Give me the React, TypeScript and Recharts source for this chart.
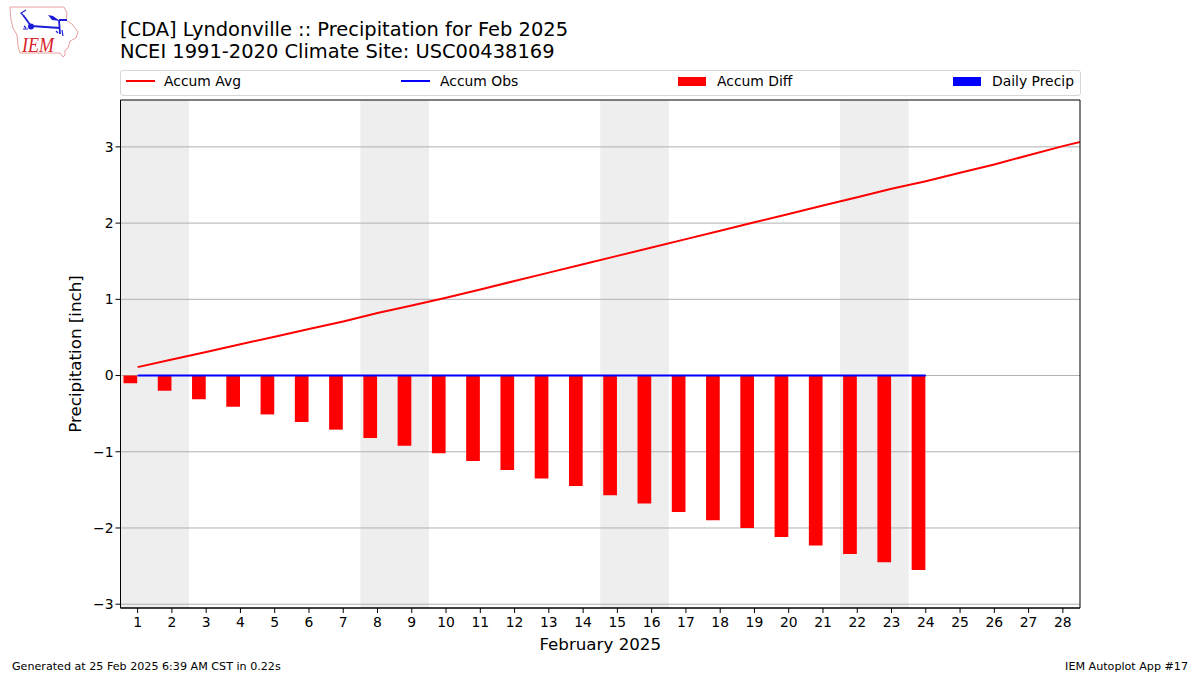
import {
  Bar,
  CartesianGrid,
  ComposedChart,
  Line,
  ReferenceArea,
  XAxis,
  YAxis,
} from "recharts";

const FONT = "'DejaVu Sans', sans-serif";

const days = [1, 2, 3, 4, 5, 6, 7, 8, 9, 10, 11, 12, 13, 14, 15, 16, 17, 18, 19, 20, 21, 22, 23, 24, 25, 26, 27, 28, 29];
const accumAvg = [0.11, 0.21, 0.31, 0.41, 0.51, 0.61, 0.71, 0.82, 0.92, 1.02, 1.13, 1.24, 1.35, 1.46, 1.57, 1.68, 1.79, 1.9, 2.01, 2.12, 2.23, 2.34, 2.45, 2.55, 2.66, 2.77, 2.89, 3.01, 3.12];
const accumObs = [0, 0, 0, 0, 0, 0, 0, 0, 0, 0, 0, 0, 0, 0, 0, 0, 0, 0, 0, 0, 0, 0, 0, 0];
const accumDiff = [-0.1, -0.2, -0.31, -0.41, -0.51, -0.61, -0.71, -0.82, -0.92, -1.02, -1.12, -1.24, -1.35, -1.45, -1.57, -1.68, -1.79, -1.9, -2.0, -2.12, -2.23, -2.34, -2.45, -2.55];
const dailyPrecip = [0, 0, 0, 0, 0, 0, 0, 0, 0, 0, 0, 0, 0, 0, 0, 0, 0, 0, 0, 0, 0, 0, 0, 0];
const weekends = [
  [0.5, 2.5],
  [7.5, 9.5],
  [14.5, 16.5],
  [21.5, 23.5],
];
const xTicks = days.slice(0, 28);
const yTicks = [-3, -2, -1, 0, 1, 2, 3];
const xDomain = [0.5, 28.5];
const yDomain = [-3.05, 3.615];

const rows = days.map((day, i) => ({
  day,
  avg: accumAvg[i],
  obs: accumObs[i],
  diff: accumDiff[i],
  daily: dailyPrecip[i],
}));

function Logo() {
  return (
    <svg width={90} height={62} style={{ position: "absolute", left: 0, top: 0 }}>
      <path
        d="M10 7 L64 7 L67 13 L66 20 L72 24 L78 32 L76 38 L70 41 L68 48 L65 50 L65 55 L63 57 L60 53 L20 53 L18 46 L17 35 L13 28 L11 20 Z"
        fill="#fff"
        stroke="#e8a0a0"
        strokeWidth={1}
      />
      <path d="M31 26 L60 28 M59 20 L67 20 M59 20 L60 34 M23 15 L31 26" stroke="#1c1cd8" strokeWidth={1.8} fill="none" />
      <path d="M23 15 L21 13 L26 10" stroke="#1c1cd8" strokeWidth={1.2} fill="none" />
      <circle cx={31} cy={26.5} r={3} fill="#1c1cd8" />
      <path d="M48 15 L53 16 L60 21 L52 20 Z" fill="#1c1cd8" />
      <path d="M24 26 L26 28 M23 29 L28 29 M56 31 L58 33 M62 30 L63 36" stroke="#1c1cd8" strokeWidth={1.2} />
      <text
        x={22}
        y={52}
        fontFamily="'Liberation Serif', serif"
        fontStyle="italic"
        fontSize={22}
        fill="#d8232a"
        textLength={32}
        lengthAdjust="spacingAndGlyphs"
      >
        IEM
      </text>
    </svg>
  );
}

function LegendStrip() {
  const lineKey = (left: number, color: string) => (
    <div style={{ position: "absolute", left, top: 9, width: 29, height: 2, background: color }} />
  );
  const barKey = (left: number, color: string) => (
    <div style={{ position: "absolute", left, top: 6, width: 28, height: 9, background: color }} />
  );
  const label = (left: number, text: string) => (
    <div style={{ position: "absolute", left, top: 2, fontSize: 13.9, lineHeight: "16px", color: "#000" }}>{text}</div>
  );
  return (
    <div
      style={{
        position: "absolute",
        left: 120,
        top: 70,
        width: 959,
        height: 24,
        border: "1px solid #d6d6d6",
        borderRadius: 3,
        fontFamily: FONT,
      }}
    >
      {lineKey(5, "#ff0000")}
      {label(43, "Accum Avg")}
      {lineKey(280, "#0000ff")}
      {label(319, "Accum Obs")}
      {barKey(557, "#ff0000")}
      {label(596, "Accum Diff")}
      {barKey(832, "#0000ff")}
      {label(871, "Daily Precip")}
    </div>
  );
}

export default function App() {
  return (
    <div style={{ position: "absolute", left: 0, top: 0, width: 1200, height: 675, background: "#fff", fontFamily: FONT, overflow: "hidden" }}>
      <ComposedChart
        width={1200}
        height={675}
        data={rows}
        margin={{ top: 100, right: 120, bottom: 27, left: 60 }}
        barGap={0}
        barSize={13.7}
      >
        {weekends.map(([from, to]) => (
          <ReferenceArea key={from} x1={from} x2={to} y1={yDomain[0]} y2={yDomain[1]} fill="#eeeeee" fillOpacity={1} stroke="none" zIndex={50} />
        ))}
        <CartesianGrid vertical={false} stroke="#b0b0b0" strokeWidth={1} zIndex={60} horizontalValues={yTicks} />
        <XAxis
          dataKey="day"
          type="number"
          domain={xDomain}
          ticks={xTicks}
          interval={0}
          allowDataOverflow
          height={40}
          stroke="#000"
          tickSize={5}
          tickMargin={4}
          tick={{ fontSize: 13.9, fill: "#000", fontFamily: FONT }}
          label={{ value: "February 2025", position: "insideBottom", offset: -2, fontSize: 16.7, fill: "#000", fontFamily: FONT }}
        />
        <YAxis
          type="number"
          domain={yDomain}
          ticks={yTicks}
          interval={0}
          allowDataOverflow
          width={60.5}
          stroke="#000"
          tickSize={5}
          tickFormatter={(v: number) => (v < 0 ? `\u2212${-v}` : `${v}`)}
          tick={{ fontSize: 13.9, fill: "#000", fontFamily: FONT }}
          label={{ value: "Precipitation [inch]", angle: -90, position: "insideLeft", offset: 15, textAnchor: "middle", fontSize: 16.7, fill: "#000", fontFamily: FONT }}
        />
        <Bar dataKey="diff" fill="#ff0000" isAnimationActive={false} />
        <Bar dataKey="daily" fill="#0000ff" isAnimationActive={false} />
        <Line dataKey="avg" stroke="#ff0000" strokeWidth={2} dot={false} activeDot={false} isAnimationActive={false} />
        <Line dataKey="obs" stroke="#0000ff" strokeWidth={2} dot={false} activeDot={false} isAnimationActive={false} />
        <ReferenceArea x1={xDomain[0]} x2={xDomain[1]} y1={yDomain[0]} y2={yDomain[1]} fill="none" stroke="#000" strokeWidth={1} zIndex={900} />
      </ComposedChart>
      <Logo />
      <div style={{ position: "absolute", left: 120, top: 19, fontSize: 19.45, lineHeight: "22px", color: "#000", whiteSpace: "pre" }}>
        {"[CDA] Lyndonville :: Precipitation for Feb 2025\nNCEI 1991-2020 Climate Site: USC00438169"}
      </div>
      <LegendStrip />
      <div style={{ position: "absolute", left: 12, top: 660, fontSize: 11.14, lineHeight: "13px", color: "#000" }}>
        Generated at 25 Feb 2025 6:39 AM CST in 0.22s
      </div>
      <div style={{ position: "absolute", right: 12, top: 660, fontSize: 11.14, lineHeight: "13px", color: "#000" }}>
        IEM Autoplot App #17
      </div>
    </div>
  );
}
